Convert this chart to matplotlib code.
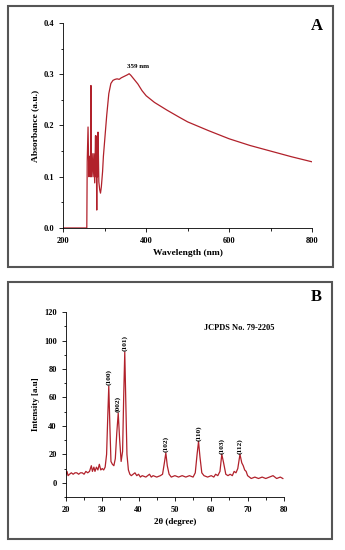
import numpy as np
import matplotlib
matplotlib.use("Agg")
import matplotlib.pyplot as plt
from matplotlib.patches import Rectangle
from matplotlib.ticker import MultipleLocator

plt.rcParams['font.family'] = ['Liberation Serif', 'DejaVu Serif']
plt.rcParams['font.weight'] = 'bold'

red = '#b1212b'

# --- UV-Vis data (panel A) ---
wavelength = [200, 257, 258, 260, 262, 264, 266, 267, 268, 270, 272, 274, 276, 278, 279,
              280, 281, 282, 283, 284, 285, 286, 288, 290, 292, 295, 297, 300, 305, 310,
              315, 320, 325, 330, 335, 340, 345, 350, 355, 359, 363, 367, 372, 380, 390,
              400, 420, 450, 480, 500, 550, 600, 650, 700, 750, 800]
absorbance = [0.0, 0.0, 0.13, 0.197, 0.10, 0.14, 0.10, 0.278, 0.10, 0.145, 0.10, 0.145, 0.088, 0.18, 0.10,
              0.146, 0.035, 0.18, 0.10, 0.187, 0.14, 0.09, 0.075, 0.068, 0.08, 0.11, 0.14, 0.17, 0.22, 0.262,
              0.282, 0.288, 0.29, 0.291, 0.29, 0.293, 0.295, 0.297, 0.299, 0.301, 0.298, 0.294, 0.289, 0.281, 0.268,
              0.258, 0.245, 0.23, 0.216, 0.207, 0.19, 0.174, 0.161, 0.150, 0.139, 0.129]

# --- XRD data (panel B) ---
two_theta = [20, 20.3, 20.6, 21, 21.5, 22, 22.5, 23, 23.5, 24, 24.5, 25, 25.5, 26, 26.5, 27, 27.3, 27.7,
             28, 28.4, 28.8, 29.2, 29.6, 30, 30.4, 30.8, 31.2, 31.5, 31.8, 32.1, 32.4, 32.8, 33.2, 33.6,
             34.0, 34.4, 34.8, 35.2, 35.6, 35.9, 36.2, 36.5, 36.8, 37.2, 37.6, 38, 38.5, 39, 39.5, 40,
             40.5, 41, 42, 43, 43.5, 44, 45, 46, 46.6, 47.1, 47.5, 47.9, 48.4, 49, 50, 51, 52, 53, 54,
             55, 55.6, 56.1, 56.5, 56.9, 57.4, 58, 59, 60, 60.7, 61.2, 61.8, 62.4, 62.9, 63.4, 64, 64.6,
             65.2, 65.8, 66.3, 66.8, 67.3, 67.9, 68.4, 68.8, 69.2, 69.6, 70, 70.5, 71, 72, 73, 74, 75,
             76, 77, 77.5, 78, 79, 79.7]
intensity = [6, 8, 5, 6, 7, 6, 7, 7, 6, 7, 7, 6, 8, 7, 8, 12, 8, 11, 8, 11, 9, 13, 9, 10, 9, 11, 20,
             45, 68, 40, 15, 13, 12, 17, 35, 49, 30, 15, 22, 60, 92, 55, 20, 9, 6, 5, 6, 7, 5, 6,
             4, 5, 4, 6, 4, 5, 4, 5, 6, 14, 21, 12, 6, 4, 5, 4, 5, 4, 5, 4, 7, 20, 29, 18, 7, 5, 4, 5,
             4, 6, 5, 8, 20, 14, 6, 5, 6, 5, 8, 7, 10, 20, 14, 12, 9, 8, 5, 4, 3, 4, 3, 4, 3,
             4, 5, 4, 3, 4, 3]

peak_pos = [31.8, 34.4, 36.2, 47.5, 56.5, 62.9, 67.9]
peak_val = [68, 49, 92, 21, 29, 20, 20]
peak_hkl = ['(100)', '(002)', '(101)', '(102)', '(110)', '(103)', '(112)']

fig = plt.figure(figsize=(3.45, 5.5), dpi=100)

# grey frames around the two panels
fig.patches.append(Rectangle((0.023, 0.5145), 0.942, 0.4745, transform=fig.transFigure,
                             fill=False, edgecolor='#555555', linewidth=1.5))
fig.patches.append(Rectangle((0.023, 0.02), 0.940, 0.467, transform=fig.transFigure,
                             fill=False, edgecolor='#555555', linewidth=1.5))


def style(ax):
    ax.spines['top'].set_visible(False)
    ax.spines['right'].set_visible(False)
    for s in ['left', 'bottom']:
        ax.spines[s].set_linewidth(0.6)
    ax.tick_params(which='both', direction='out', labelsize=6, width=0.6)
    ax.tick_params(which='major', length=3)
    ax.tick_params(which='minor', length=1.8)
    for lab in ax.get_xticklabels() + ax.get_yticklabels():
        lab.set_fontweight('bold')


# Panel A
ax1 = fig.add_axes([0.183, 0.5855, 0.722, 0.3727])
ax1.plot(wavelength, absorbance, color=red, lw=0.9)
ax1.set_xlim(200, 800)
ax1.set_ylim(0, 0.4)
ax1.xaxis.set_major_locator(MultipleLocator(200))
ax1.xaxis.set_minor_locator(MultipleLocator(100))
ax1.yaxis.set_major_locator(MultipleLocator(0.1))
ax1.yaxis.set_minor_locator(MultipleLocator(0.05))
ax1.yaxis.set_major_formatter(plt.FormatStrFormatter('%.1f'))
ax1.set_xlabel('Wavelength (nm)', fontsize=6.8, fontweight='bold', labelpad=3)
ax1.set_ylabel('Absorbance (a.u.)', fontsize=6.8, fontweight='bold', labelpad=3)
ax1.text(381, 0.316, '359 nm', fontsize=5, fontweight='bold', ha='center', va='center')
style(ax1)
fig.text(0.918, 0.953, 'A', fontsize=12, fontweight='bold', ha='center', va='center')

# Panel B
ax2 = fig.add_axes([0.191, 0.0964, 0.632, 0.336])
ax2.plot(two_theta, intensity, color=red, lw=0.9)
ax2.set_xlim(20, 80)
ax2.set_ylim(-10, 120)
ax2.xaxis.set_major_locator(MultipleLocator(10))
ax2.xaxis.set_minor_locator(MultipleLocator(5))
ax2.yaxis.set_major_locator(MultipleLocator(20))
ax2.yaxis.set_minor_locator(MultipleLocator(10))
ax2.set_yticks([0, 20, 40, 60, 80, 100, 120])
ax2.set_xlabel('2θ (degree)', fontsize=6.5, fontweight='bold', labelpad=3)
ax2.set_ylabel('Intensity [a.u]', fontsize=6.5, fontweight='bold', labelpad=3)
for p, v, lab in zip(peak_pos, peak_val, peak_hkl):
    ax2.text(p, v + 0.5, lab, fontsize=5.3, fontweight='bold', rotation=90,
             ha='center', va='bottom')
ax2.text(67.7, 109, 'JCPDS No. 79-2205', fontsize=6, fontweight='bold', ha='center', va='center')
style(ax2)
fig.text(0.918, 0.46, 'B', fontsize=12, fontweight='bold', ha='center', va='center')

fig.savefig('out.png', dpi=100)
